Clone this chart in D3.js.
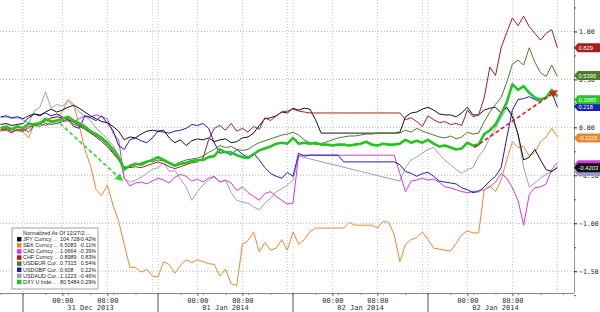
<!DOCTYPE html>
<html>
<head>
<meta charset="utf-8">
<script src="https://cdn.jsdelivr.net/npm/d3@7"></script>
<style>
  body { margin: 0; background: #fff; }
  svg { display: block; }
</style>
</head>
<body>
<div id="chart"></div>
<script>
// hours since session open 30 Dec 17:00 (one sample per hour)
const hours = [-4,-3,-2,-1,0,1,2,3,4,5,6,7,8,9,10,11,12,13,14,15,16,17,18,19,20,21,22,23,24,25,
  26,27,28,29,30,31,32,33,34,35,36,37,38,39,40,41,42,43,44,45,46,47,48,49,50,51,52,53,54,55,
  56,57,58,59,60,61,62,63,64,65,66,67,68,69,70,71,72,73,74,75,76,77,78,79,80,81,82,83,84,85,
  86,87,88,89,90,91,92,93,94,95]

// % change, normalized as of 12/27
const jpy = [0.03,0.04,0.02,0.03,0.04,0.10,0.14,0.12,0.16,0.19,
  0.16,0.18,0.21,0.23,0.20,0.16,0.12,0.09,0.06,0.05,
  0.01,-0.04,-0.13,-0.10,-0.11,-0.07,-0.04,-0.03,-0.04,-0.03,
  -0.11,-0.16,-0.13,-0.19,-0.14,-0.12,-0.13,-0.11,-0.15,-0.13,
  -0.12,-0.16,-0.15,-0.11,-0.10,-0.06,0.02,0.09,0.10,0.12,
  0.16,0.15,0.20,0.18,0.20,0.19,0.08,-0.06,-0.06,-0.06,
  -0.06,-0.06,-0.06,-0.06,-0.06,-0.06,-0.06,-0.06,-0.06,-0.06,
  -0.06,-0.05,0.11,0.15,0.16,0.19,0.21,0.18,0.14,0.13,
  0.13,0.11,0.15,0.21,0.13,0.13,0.18,0.20,0.21,0.15,
  0.21,0.11,-0.07,-0.34,-0.31,-0.23,-0.34,-0.44,-0.46,-0.42]

const sek = [-0.03,-0.02,-0.04,-0.03,-0.05,-0.11,0.04,0.06,0.05,0.09,
  0.11,0.16,0.29,0.24,0.02,-0.23,-0.40,-0.65,-0.71,-0.60,
  -0.81,-0.98,-1.22,-1.46,-1.46,-1.51,-1.48,-1.55,-1.56,-1.40,
  -1.43,-1.52,-1.44,-1.38,-1.41,-1.38,-1.40,-1.42,-1.43,-1.55,
  -1.48,-1.63,-1.65,-1.22,-1.18,-1.09,-1.30,-1.20,-1.28,-1.26,
  -1.17,-1.28,-1.09,-1.22,-1.17,-1.09,-1.05,-1.05,-1.05,-1.05,
  -1.05,-1.05,-0.99,-1.02,-1.02,-1.02,-1.02,-1.05,-0.98,-0.99,
  -1.12,-1.40,-1.22,-1.17,-1.15,-1.09,-1.17,-1.26,-1.27,-1.28,
  -1.29,-1.21,-1.12,-1.08,-1.10,-1.10,-0.65,-0.61,-0.67,-0.55,
  -0.34,-0.15,-0.21,-0.20,-0.30,-0.26,-0.15,-0.10,-0.01,-0.10]

const cad = [-0.04,-0.03,-0.06,-0.02,-0.04,-0.01,0.02,0.04,0.02,0.05,
  0.04,0.07,0.08,0.06,0.09,0.12,0.11,0.13,0.11,0.09,
  -0.06,-0.13,-0.53,-0.61,-0.58,-0.57,-0.59,-0.56,-0.53,-0.55,
  -0.58,-0.52,-0.49,-0.51,-0.56,-0.54,-0.57,-0.53,-0.51,-0.57,
  -0.55,-0.58,-0.66,-0.62,-0.68,-0.72,-0.76,-0.69,-0.67,-0.72,
  -0.76,-0.80,-0.79,-0.29,-0.29,-0.29,-0.29,-0.29,-0.29,-0.29,
  -0.29,-0.29,-0.29,-0.29,-0.29,-0.29,-0.29,-0.29,-0.29,-0.29,
  -0.29,null,-0.67,-0.56,-0.55,-0.53,-0.55,-0.54,-0.57,-0.62,
  -0.63,-0.65,-0.67,-0.68,-0.67,-0.66,-0.65,-0.62,-0.57,-0.48,
  -0.53,-0.63,-0.76,-1.02,-0.70,-0.63,-0.62,-0.59,-0.44,-0.37]

const chf = [-0.03,-0.01,-0.05,-0.02,-0.04,0.01,0.02,0.03,0.07,0.10,
  0.11,0.10,0.08,0.05,0.02,-0.01,-0.06,-0.10,-0.15,-0.20,
  -0.27,-0.34,-0.41,-0.42,-0.41,-0.42,-0.40,-0.38,-0.36,-0.38,
  -0.41,-0.43,-0.41,-0.39,-0.37,-0.36,-0.32,-0.13,-0.01,0.02,
  -0.03,0.04,-0.04,-0.01,-0.05,0.01,-0.02,0.10,0.07,0.12,
  0.16,0.17,0.19,0.17,0.16,0.15,0.15,0.15,0.15,0.15,
  0.15,0.15,0.15,0.15,0.15,0.15,0.15,0.15,0.15,0.15,
  0.15,0.15,0.08,0.10,0.06,0.01,0.12,0.08,0.05,0.06,
  0.03,0.04,0.02,0.18,0.11,0.13,0.31,0.63,0.54,0.83,
  0.99,1.14,1.06,1.16,1.05,0.98,0.91,0.98,1.02,0.83]

const eur = [-0.02,-0.03,-0.01,-0.04,-0.02,-0.05,0.02,0.01,0.04,0.03,
  0.04,0.06,0.07,0.03,0.01,-0.02,-0.06,-0.09,-0.13,-0.19,
  -0.26,-0.34,-0.42,-0.41,-0.39,-0.37,-0.35,-0.36,-0.34,-0.35,
  -0.38,-0.39,-0.36,-0.34,-0.33,-0.32,-0.30,-0.26,-0.23,-0.19,
  -0.21,-0.20,-0.23,-0.24,-0.23,-0.19,-0.16,-0.14,-0.12,-0.10,
  -0.08,-0.07,-0.05,-0.08,-0.13,-0.16,-0.18,-0.17,-0.15,-0.13,
  -0.11,-0.10,-0.09,-0.09,-0.08,-0.07,-0.07,-0.06,-0.06,-0.06,
  -0.06,-0.06,-0.03,-0.05,-0.01,-0.04,-0.06,-0.08,-0.10,-0.11,
  -0.09,-0.12,-0.10,-0.05,-0.07,-0.06,0.06,0.16,0.24,0.31,
  0.47,0.66,0.70,0.65,0.83,0.68,0.57,0.53,0.65,0.53]

const gbp = [0.11,0.12,0.10,0.11,0.09,0.12,0.14,0.13,0.15,0.12,
  0.14,0.11,0.08,0.01,-0.01,0.12,0.10,0.07,0.12,0.04,
  -0.03,-0.19,-0.23,-0.13,-0.11,-0.14,-0.16,-0.11,-0.04,-0.05,
  -0.06,-0.04,-0.03,-0.01,0.03,0.02,0.04,-0.01,-0.16,-0.27,
  -0.26,-0.29,-0.23,-0.28,-0.31,-0.27,-0.34,-0.42,-0.48,-0.51,
  -0.53,-0.47,-0.51,-0.27,-0.30,-0.29,-0.29,-0.29,-0.29,-0.29,
  -0.29,-0.36,-0.36,-0.36,-0.36,-0.36,-0.36,-0.36,-0.36,-0.36,
  -0.36,-0.39,-0.46,-0.48,-0.51,-0.48,-0.47,-0.51,-0.56,-0.57,
  -0.58,-0.59,-0.63,-0.65,-0.68,-0.67,-0.62,-0.56,-0.51,-0.42,
  -0.11,0.18,0.29,0.30,0.32,0.29,0.27,0.32,0.37,0.21]

// AUD has no prints over the holiday -> gap bridged by a straight segment
const aud = [0.10,0.11,0.09,0.10,0.08,0.04,0.17,0.21,0.37,0.20,
  0.24,0.22,0.28,0.22,0.16,0.12,0.07,-0.01,-0.06,-0.12,
  -0.19,-0.29,-0.53,-0.57,-0.55,-0.52,-0.48,-0.44,-0.42,-0.37,
  -0.46,-0.45,-0.54,-0.62,-0.76,-0.67,-0.60,-0.55,-0.52,-0.57,
  -0.55,-0.68,-0.76,-0.78,-0.79,-0.83,-0.86,-0.79,-0.74,-0.67,
  -0.64,-0.60,-0.55,-0.30,null,null,null,null,null,null,
  null,null,null,null,null,null,null,null,null,null,
  null,-0.56,-0.42,-0.34,-0.31,-0.27,-0.23,-0.21,-0.28,-0.34,
  -0.39,-0.44,-0.48,-0.44,-0.42,-0.30,-0.23,-0.10,-0.01,0.10,
  0.20,0.15,-0.08,-0.42,-0.62,-0.58,-0.53,-0.49,-0.46,-0.41]

const dxy = [-0.01,0.01,-0.02,0.01,-0.01,0.04,0.03,0.04,0.09,0.06,
  0.07,0.09,0.11,0.07,0.04,0.01,-0.04,-0.07,-0.11,-0.16,
  -0.23,-0.31,-0.44,-0.40,-0.38,-0.39,-0.36,-0.34,-0.31,-0.34,
  -0.37,-0.40,-0.38,-0.37,-0.35,-0.34,-0.34,-0.31,-0.30,-0.23,
  -0.26,-0.26,-0.29,-0.31,-0.32,-0.28,-0.24,-0.22,-0.20,-0.17,
  -0.16,-0.17,-0.11,-0.17,-0.16,-0.17,-0.16,-0.18,-0.18,-0.19,
  -0.18,-0.18,-0.19,-0.18,-0.17,-0.15,-0.18,-0.19,-0.17,-0.18,
  -0.18,-0.17,-0.13,-0.16,-0.14,-0.16,-0.13,-0.17,-0.20,-0.19,
  -0.21,-0.23,-0.22,-0.16,-0.19,-0.18,-0.07,-0.03,0.03,0.14,
  0.26,0.45,0.39,0.43,0.36,0.31,0.29,0.31,0.39,0.32]

// legend table
const seriesNames = ["JPY Curncy ...", "SEK Curncy ...", "CAD Curncy ...", "CHF Curncy ...",
  "USDEUR Cur...", "USDGBP Cur...", "USDAUD Cur...", "DXY U Inde..."]
const lastPrices = ["104.728", "6.5083", "1.0664", "0.8989", "0.7315", "0.608", "1.1223", "80.5484"]
const pctChanges = ["-0.42%", "-0.11%", "-0.39%", "0.83%", "0.54%", "0.22%", "-0.46%", "0.29%"]
const endValues = [-0.4203, -0.1115, -0.39, 0.829, 0.5395, 0.218, -0.46, 0.2885]
// flags hidden under the JPY flag carry no readable text
const flagText = ["-0.4203", "-0.1115", "", "0.829", "0.5395", "0.218", "", "0.2885"]

// x axis
const sessionOpens = [0, 24, 48, 72]
const dayLabels = ["31 Dec 2013", "01 Jan 2014", "02 Jan 2014", "02 Jan 2014"]
const labelHours = [7, 15, 31, 39, 55, 63, 79, 87]
const gridHours = [0, 7, 15, 23, 24, 31, 39, 47, 48, 55, 63, 71, 72, 79, 87, 95]
const yTicks = [-1.5, -1, -0.5, 0, 0.5, 1]
const yMinor = [-1.75, -1.25, -0.75, -0.25, 0.25, 0.75, 1.25]

// hand drawn arrows [hour, value]
const greenArrow = [[6.6, 0.04], [17.4, -0.54]]
const redArrow = [[80.2, -0.21], [94.6, 0.37]]

const allSeries = [jpy, sek, cad, chf, eur, gbp, aud, dxy]
const colors = ["#111111", "#e8892e", "#d43ad4", "#a3201f", "#4d7d25", "#1c1cc4", "#9c9ccc", "#22c622"]
const widths = [1, 1, 1, 1, 1, 1, 1, 2.6]
const drawOrder = [6, 2, 1, 5, 0, 4, 3, 7]

var W = 600, H = 312
var plotR = 574, plotB = 293

var svg = d3.select("#chart").append("svg")
    .attr("width", W)
    .attr("height", H)

var x = d3.scaleLinear().domain([-23 / 5.625, (plotR - 23) / 5.625]).range([0, plotR])
var y = d3.scaleLinear().domain([-1.727, 1.328]).range([plotB, 0])

var defs = svg.append("defs")
function marker(id, col) {
    defs.append("marker")
        .attr("id", id)
        .attr("viewBox", "0 0 10 10")
        .attr("refX", 6).attr("refY", 5)
        .attr("markerWidth", 5).attr("markerHeight", 5)
        .attr("orient", "auto")
        .append("path")
        .attr("d", "M0,0L10,5L0,10z")
        .attr("fill", col)
}
marker("arrG", "#33d633")
marker("arrR", "#d62020")

// grid
var grid = svg.append("g")
grid.selectAll("line.h").data(yTicks).enter().append("line")
    .attr("x1", 0).attr("x2", plotR)
    .attr("y1", d => y(d)).attr("y2", d => y(d))
    .attr("stroke", "#b8b8b8").attr("stroke-dasharray", "1,2")
grid.selectAll("line.v").data(gridHours).enter().append("line")
    .attr("x1", d => x(d)).attr("x2", d => x(d))
    .attr("y1", 0).attr("y2", plotB)
    .attr("stroke", "#c4c4c4").attr("stroke-dasharray", "1,2")

// lines
var line = d3.line()
    .x(d => x(d.t))
    .y(d => y(d.v))

drawOrder.forEach(function (i) {
    let pts = []
    hours.forEach((h, k) => {
        if (allSeries[i][k] !== null) pts.push({ t: h, v: allSeries[i][k] })
    })
    svg.append("path")
        .datum(pts)
        .attr("d", line)
        .attr("fill", "none")
        .attr("stroke", colors[i])
        .attr("stroke-width", widths[i])
        .attr("stroke-linejoin", "round")
})

// arrows
function arrow(pts, col, id) {
    svg.append("line")
        .attr("x1", x(pts[0][0])).attr("y1", y(pts[0][1]))
        .attr("x2", x(pts[1][0])).attr("y2", y(pts[1][1]))
        .attr("stroke", col).attr("stroke-width", 1.6)
        .attr("stroke-dasharray", "4,2.5")
        .attr("marker-end", "url(#" + id + ")")
}
arrow(greenArrow, "#33d633", "arrG")
arrow(redArrow, "#d62020", "arrR")

// bottom axis
var xAxis = svg.append("g")
    .attr("transform", "translate(0," + plotB + ")")
    .call(d3.axisBottom(x)
        .tickValues(labelHours)
        .tickSize(3)
        .tickFormat(d => (d % 24 === 7 ? "00:00" : "08:00")))
xAxis.select(".domain").attr("stroke", "#888").attr("d", "M0,0.5H" + plotR)
xAxis.selectAll(".tick line").attr("stroke", "#666")
xAxis.selectAll("text")
    .attr("font-family", "DejaVu Sans Mono, monospace")
    .attr("font-size", 7)
    .attr("fill", "#333")
    .attr("dy", "0.55em")

svg.append("g").attr("transform", "translate(0," + plotB + ")")
    .call(d3.axisBottom(x).tickValues(d3.range(-4, 98, 4)).tickSize(2).tickFormat(""))
    .call(g => g.select(".domain").remove())
    .selectAll("line").attr("stroke", "#888")

svg.selectAll("line.sep").data(sessionOpens).enter().append("line")
    .attr("x1", d => x(d)).attr("x2", d => x(d))
    .attr("y1", plotB).attr("y2", H)
    .attr("stroke", "#555")

svg.selectAll("text.day").data(dayLabels).enter().append("text")
    .attr("x", (d, i) => x(sessionOpens[i] + 12))
    .attr("y", 310)
    .attr("text-anchor", "middle")
    .attr("font-family", "DejaVu Sans Mono, monospace")
    .attr("font-size", 7)
    .attr("fill", "#333")
    .text(d => d)

// right axis
var yAxis = svg.append("g")
    .attr("transform", "translate(" + plotR + ",0)")
    .call(d3.axisRight(y).tickValues(yTicks).tickSize(3).tickFormat(d3.format(".2f")))
yAxis.select(".domain").attr("stroke", "#999").attr("d", "M0.5,0V" + plotB)
yAxis.selectAll(".tick line").attr("stroke", "#222")
yAxis.selectAll("text")
    .attr("font-family", "DejaVu Sans Mono, monospace")
    .attr("font-size", 6.5)
    .attr("fill", "#222")
    .attr("x", 5)
svg.append("g").attr("transform", "translate(" + plotR + ",0)")
    .call(d3.axisRight(y).tickValues(yMinor).tickSize(2).tickFormat(""))
    .call(g => g.select(".domain").remove())
    .selectAll("line").attr("stroke", "#555")

// last value flags
var flagOrder = [6, 2, 0, 1, 5, 7, 4, 3]
flagOrder.forEach(function (i) {
    let yy = y(endValues[i])
    let g = svg.append("g").attr("transform", "translate(" + plotR + "," + yy + ")")
    g.append("path")
        .attr("d", "M0,0L4,-4.5H27V4.5H4Z")
        .attr("fill", colors[i])
    if (flagText[i]) {
        g.append("text")
            .attr("x", 4.5).attr("y", 2.2)
            .attr("font-family", "Liberation Sans, Arial, sans-serif")
            .attr("font-size", 5.8)
            .attr("fill", "#fff")
            .text(flagText[i])
    }
})

// legend
var lg = svg.append("g").attr("transform", "translate(12,228)")
lg.append("rect")
    .attr("width", 86).attr("height", 61)
    .attr("fill", "#fff")
    .attr("stroke", "#a0a0a0")
lg.append("text")
    .attr("x", 11).attr("y", 7)
    .attr("font-family", "Liberation Sans, Arial, sans-serif")
    .attr("font-size", 5.4)
    .attr("fill", "#222")
    .text("Normalized As Of 12/27/2...")
var rows = lg.selectAll("g.row").data(seriesNames).enter().append("g")
    .attr("transform", (d, i) => "translate(0," + (13 + i * 6.1) + ")")
rows.append("rect")
    .attr("x", 5).attr("y", -4).attr("width", 4.5).attr("height", 4.5)
    .attr("fill", (d, i) => colors[i])
rows.append("text").attr("x", 11).text(d => d)
rows.append("text").attr("x", 48).text((d, i) => lastPrices[i])
rows.append("text").attr("x", 84).attr("text-anchor", "end").text((d, i) => pctChanges[i])
rows.selectAll("text")
    .attr("font-family", "Liberation Sans, Arial, sans-serif")
    .attr("font-size", 5.4)
    .attr("fill", "#222")
</script>
</body>
</html>
